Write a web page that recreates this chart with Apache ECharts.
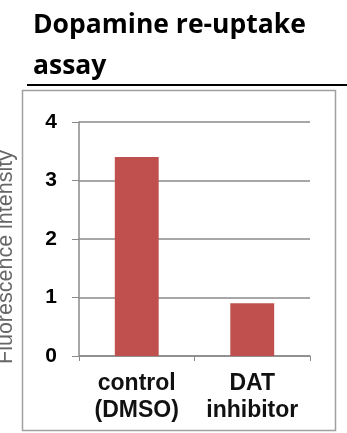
<!DOCTYPE html>
<html><head><meta charset="utf-8">
<script src="https://cdn.jsdelivr.net/npm/echarts@6/dist/echarts.min.js"></script>
<style>html,body{margin:0;padding:0;background:#fff}#c{width:347px;height:433px}</style>
</head><body><div id="c"></div>
<script>
const categories = ['control\n(DMSO)', 'DAT\ninhibitor'];
const values = [3.4, 0.9];
const yTicks = { min: 0, max: 4, interval: 1 };
const titleText = 'Dopamine re-uptake\nassay';
const yName = 'Fluorescence intensity';

const chart = echarts.init(document.getElementById('c'));
chart.setOption({
  animation: false,
  backgroundColor: '#fff',
  title: {
    text: titleText, left: 33, top: 5, padding: 0,
    textStyle: { fontFamily: 'Open Sans', fontWeight: 'bold', fontSize: 26.5, lineHeight: 41, color: '#000' }
  },
  graphic: [
    { type: 'line', shape: { x1: 27, y1: 85, x2: 347, y2: 85 }, style: { stroke: '#000', lineWidth: 2 } },
    { type: 'rect', shape: { x: 22.5, y: 90.5, width: 313, height: 340 }, style: { fill: 'none', stroke: '#a0a0a0', lineWidth: 1.5 } }
  ],
  grid: { left: 79, right: 37, top: 122, bottom: 77, containLabel: false, outerBoundsMode: 'none' },
  xAxis: {
    type: 'category', data: categories,
    axisLine: { lineStyle: { color: '#8a8a8a', width: 1.5 } },
    axisTick: { show: true, length: 5, lineStyle: { color: '#8a8a8a' } },
    axisLabel: { interval: 0, margin: 14, fontFamily: 'Liberation Sans', fontWeight: 'bold', fontSize: 23, lineHeight: 27, color: '#111' }
  },
  yAxis: {
    type: 'value', min: yTicks.min, max: yTicks.max, interval: yTicks.interval,
    name: yName, nameLocation: 'middle', nameRotate: 90, nameGap: 62,
    nameTextStyle: { fontFamily: 'Liberation Sans', fontSize: 21.5, color: '#666', padding: [0, 36, 0, 0] },
    axisLine: { show: true, lineStyle: { color: '#8a8a8a', width: 1.5 } },
    axisTick: { show: true, length: 7, lineStyle: { color: '#8a8a8a' } },
    splitLine: { lineStyle: { color: '#8a8a8a', width: 1.5 } },
    axisLabel: { margin: 22, fontFamily: 'Liberation Sans', fontWeight: 'bold', fontSize: 21, color: '#000' }
  },
  series: [{
    type: 'bar', data: values, barWidth: '38%',
    itemStyle: { color: '#c0504d' }
  }]
});
</script></body></html>
